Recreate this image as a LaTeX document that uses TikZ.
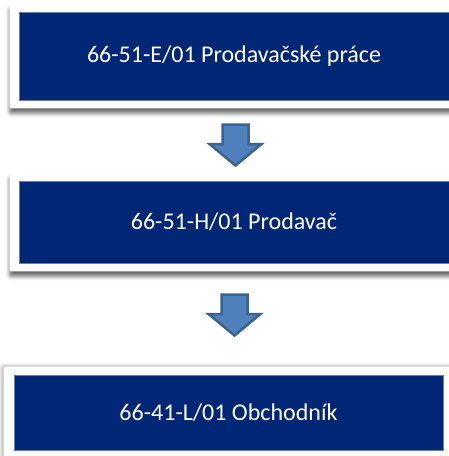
\documentclass[tikz,border=0pt]{standalone}
\usepackage{fontspec}
\setmainfont{Carlito}
\usetikzlibrary{shadows.blur,fit,backgrounds}
\definecolor{navy}{RGB}{0,38,118}
\definecolor{arrowblue}{RGB}{79,129,189}
\definecolor{arrowedge}{RGB}{60,98,145}

\tikzset{
  field/.style={fill=navy, draw=navy!60!white, line width=0.6pt, text=white,
    font=\fontsize{24}{28}\selectfont, inner sep=0pt},
  frame/.style={fill=white, rounded corners=2pt, inner xsep=9pt, inner ysep=8pt},
  downarrow/.pic={
    \draw[fill=arrowblue, draw=arrowedge, line width=2.5pt]
      (-13,-20.5) -- (13,-20.5) -- (13,-1) -- (26,-1) -- (0,20.5)
      -- (-26,-1) -- (-13,-1) -- cycle;
    \coordinate (-top) at (0,-20.5);
    \coordinate (-tip) at (0,20.5);
  }
}

\begin{document}
\begin{tikzpicture}[x=1pt,y=-1pt]
\useasboundingbox (0,0) rectangle (449,456);

\node[field, minimum width=430pt, minimum height=88pt] (sale) at (234,56)
  {66-51-E/01 Prodavačské práce};
\node[field, minimum width=430pt, minimum height=82pt] (seller) at (234,222)
  {66-51-H/01 Prodavač};
\node[field, minimum width=429pt, minimum height=75pt] (trader) at (228.5,412.5)
  {66-41-L/01 Obchodník};

\begin{scope}[on background layer]
\node[frame, fit=(sale), blur shadow={shadow xshift=0pt, shadow yshift=-5pt,
  shadow blur radius=4pt, shadow opacity=60}] (saleframe) {};
\node[frame, fit=(seller), blur shadow={shadow xshift=0pt, shadow yshift=-5pt,
  shadow blur radius=4pt, shadow opacity=60}] (sellerframe) {};
\node[frame, fit=(trader), inner xsep=10pt, blur shadow={shadow xshift=-2pt,
  shadow yshift=1pt, shadow blur radius=3pt, shadow opacity=30}] (traderframe) {};
\end{scope}

\pic (step1) at (235.5,145) {downarrow};
\pic (step2) at (234.5,315) {downarrow};
\end{tikzpicture}
\end{document}
